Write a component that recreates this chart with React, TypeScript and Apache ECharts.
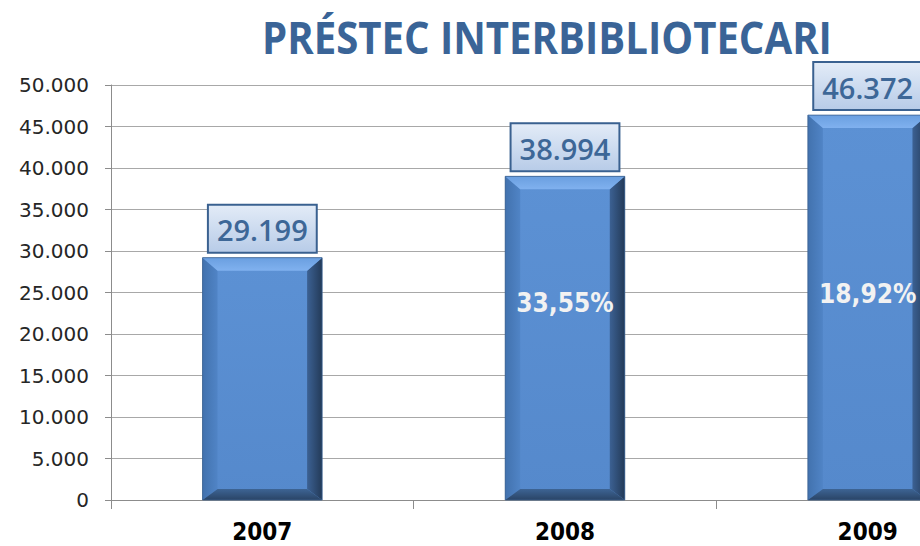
import React, { useEffect, useRef } from "react";
import * as echarts from "echarts";

const titleText = "PRÉSTEC INTERBIBLIOTECARI";
const years = ["2007", "2008", "2009"];
const loans = [29199, 38994, 46372];
const growthLabels = ["", "33,55%", "18,92%"];
const yTicks = { min: 0, max: 50000, interval: 5000 };

const fmtThousands = (v: number) =>
  String(Math.round(v)).replace(/\B(?=(\d{3})+(?!\d))/g, ".");

export default function App() {
  const ref = useRef<HTMLDivElement>(null);

  useEffect(() => {
    if (!ref.current) return;
    const chart = echarts.init(ref.current, null, { renderer: "svg" });

    const titleFont = 'bold 45px "Open Sans", "Liberation Sans", sans-serif';
    let scaleX = 0.78;
    try {
      const ctx = document.createElement("canvas").getContext("2d");
      if (ctx) {
        ctx.font = titleFont;
        const w = ctx.measureText(titleText).width;
        if (w > 0) scaleX = 570 / w;
      }
    } catch (e) {}

    const faceGrad = new echarts.graphic.LinearGradient(0, 0, 0, 1, [
      { offset: 0, color: "#5c91d4" },
      { offset: 1, color: "#5589cc" },
    ]);
    const topGrad = new echarts.graphic.LinearGradient(0, 0, 0, 1, [
      { offset: 0, color: "#6a9fe0" },
      { offset: 1, color: "#80b1ef" },
    ]);
    const rightGrad = new echarts.graphic.LinearGradient(0, 0, 1, 0, [
      { offset: 0, color: "#3c6193" },
      { offset: 1, color: "#233a58" },
    ]);
    const leftGrad = new echarts.graphic.LinearGradient(0, 0, 1, 0, [
      { offset: 0, color: "#4272ae" },
      { offset: 1, color: "#5084c6" },
    ]);
    const bottomGrad = new echarts.graphic.LinearGradient(0, 0, 0, 1, [
      { offset: 0, color: "#3d6494" },
      { offset: 1, color: "#2a4466" },
    ]);

    const option: any = {
      animation: false,
      backgroundColor: "#ffffff",
      graphic: [
        {
          type: "text",
          x: 262,
          y: 14,
          scaleX: scaleX,
          style: {
            text: titleText,
            font: titleFont,
            fill: "#3a6497",
            textVerticalAlign: "top",
          },
        },
      ],
      grid: { left: 111, top: 85, width: 908, height: 415, containLabel: false },
      xAxis: {
        type: "category",
        data: years,
        axisLine: { lineStyle: { color: "#8c8c8c", width: 1 } },
        axisTick: { show: true, length: 9, lineStyle: { color: "#8c8c8c" } },
        axisLabel: {
          margin: 20,
          color: "#000000",
          fontFamily: '"DejaVu Sans Condensed", "DejaVu Sans", sans-serif',
          fontWeight: "bold",
          fontSize: 24,
        },
      },
      yAxis: {
        type: "value",
        min: yTicks.min,
        max: yTicks.max,
        interval: yTicks.interval,
        axisLine: { show: true, lineStyle: { color: "#8c8c8c", width: 1 } },
        axisTick: { show: true, length: 6, lineStyle: { color: "#8c8c8c" } },
        splitLine: { lineStyle: { color: "#a8a8a8", width: 1 } },
        axisLabel: {
          margin: 22,
          color: "#262626",
          fontFamily: '"DejaVu Sans", Verdana, sans-serif',
          fontSize: 20,
          formatter: (v: number) => fmtThousands(v),
        },
      },
      series: [
        {
          type: "custom",
          z: 2,
          data: loans.map((v, i) => [i, v]),
          encode: { x: 0, y: 1 },
          renderItem: (params: any, api: any) => {
            const x = api.value(0);
            const v = api.value(1);
            const top = api.coord([x, v]);
            const bot = api.coord([x, 0]);
            const w = api.size([1, 0])[0] * 0.395;
            const l = top[0] - w / 2;
            const r = top[0] + w / 2;
            const t = top[1];
            const b = bot[1];
            const bx = 15;
            const byT = 13;
            const byB = 11;
            return {
              type: "group",
              children: [
                { type: "rect", shape: { x: l, y: t, width: w, height: b - t }, style: { fill: faceGrad } },
                { type: "polygon", shape: { points: [[l, t], [l + bx, t + byT], [l + bx, b - byB], [l, b]] }, style: { fill: leftGrad } },
                { type: "polygon", shape: { points: [[r, t], [r, b], [r - bx, b - byB], [r - bx, t + byT]] }, style: { fill: rightGrad } },
                { type: "polygon", shape: { points: [[l, b], [l + bx, b - byB], [r - bx, b - byB], [r, b]] }, style: { fill: bottomGrad } },
                { type: "polygon", shape: { points: [[l, t], [r, t], [r - bx, t + byT], [l + bx, t + byT]] }, style: { fill: topGrad } },
                { type: "rect", shape: { x: l, y: t, width: w, height: b - t }, style: { fill: "none", stroke: "#3a5f8e", lineWidth: 0.8 } },
              ],
            };
          },
        },
        {
          type: "bar",
          z: 3,
          barWidth: "39.5%",
          data: loans,
          itemStyle: { color: "rgba(0,0,0,0)" },
          label: {
            show: true,
            position: "top",
            distance: 6,
            formatter: (p: any) => fmtThousands(p.value),
            fontFamily: '"Open Sans", "Noto Sans", sans-serif',
            fontWeight: 600,
            fontSize: 29,
            lineHeight: 34,
            color: "#3d6797",
            padding: [7, 8, 5, 8],
            borderColor: "#3a6190",
            borderWidth: 2,
            backgroundColor: new echarts.graphic.LinearGradient(0, 0, 0, 1, [
              { offset: 0, color: "#e2ebf7" },
              { offset: 1, color: "#b8cce8" },
            ]),
          },
        },
        {
          type: "bar",
          z: 4,
          barWidth: "39.5%",
          barGap: "-100%",
          data: loans.map((v, i) => ({
            value: v,
            label: { offset: [0, i === 1 ? -35 : -14] },
          })),
          itemStyle: { color: "rgba(0,0,0,0)" },
          label: {
            show: true,
            position: "inside",
            formatter: (p: any) => growthLabels[p.dataIndex],
            fontFamily: '"DejaVu Sans Condensed", "DejaVu Sans", sans-serif',
            fontWeight: "bold",
            fontSize: 26,
            color: "#f2f2f2",
          },
        },
      ],
    };

    chart.setOption(option);
    return () => chart.dispose();
  }, []);

  return (
    <div
      style={{
        position: "fixed",
        left: 0,
        top: 0,
        width: 920,
        height: 546,
        overflow: "hidden",
        background: "#ffffff",
      }}
    >
      <div ref={ref} style={{ width: 1030, height: 546 }} />
    </div>
  );
}
